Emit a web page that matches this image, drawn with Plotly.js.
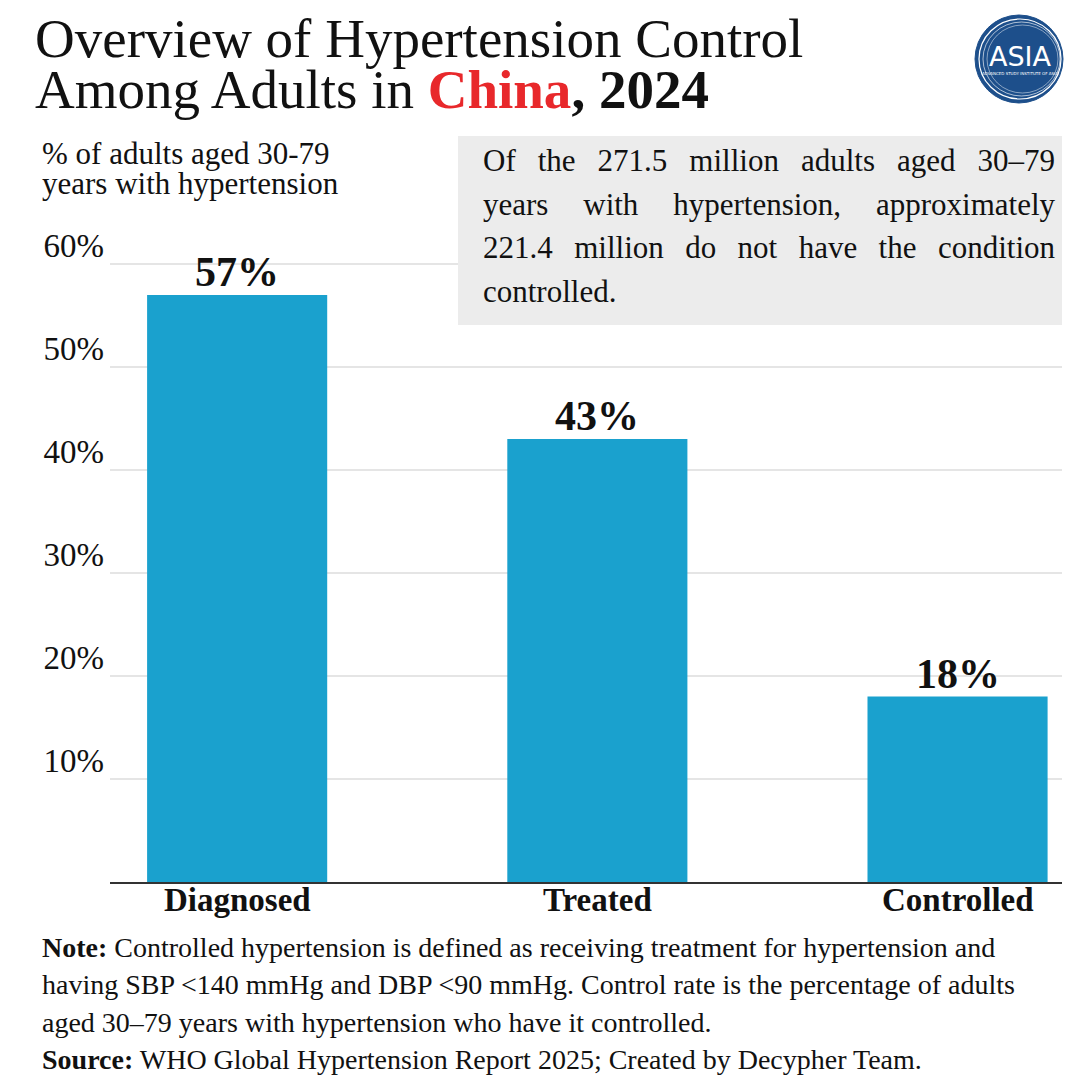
<!DOCTYPE html>
<html>
<head>
<meta charset="utf-8">
<script src="https://cdn.plot.ly/plotly-3.0.1.min.js"></script>
<style>html,body{margin:0;padding:0;background:#fff;}#chart{width:1080px;height:1080px;}</style>
</head>
<body>
<div id="chart"></div>
<script>
// ---- data ----
const categories = ['Diagnosed', 'Treated', 'Controlled'];
const values = [57, 43, 18];
const valueLabels = ['57%', '43%', '18%'];
const yTickVals = [10, 20, 30, 40, 50, 60];
const yTickText = ['10%', '20%', '30%', '40%', '50%', '60%'];

const titleLine1 = 'Overview of Hypertension Control';
const titleLine2 = 'Among Adults in <span style="color:#e8282b"><b>China</b></span><b>, 2024</b>';
const subtitleLines = ['% of adults aged 30-79', 'years with hypertension'];
const boxLines = [
  'Of the 271.5 million adults aged 30\u201379',
  'years with hypertension, approximately',
  '221.4 million do not have the condition',
  'controlled.'
];
const noteLines = [
  '<b>Note:</b> Controlled hypertension is defined as receiving treatment for hypertension and',
  'having SBP &lt;140 mmHg and DBP &lt;90 mmHg. Control rate is the percentage of adults',
  'aged 30\u201379 years with hypertension who have it controlled.',
  '<b>Source:</b> WHO Global Hypertension Report 2025; Created by Decypher Team.'
];

// ---- layout geometry ----
const W = 1080, H = 1080;
const mL = 110, mR = 18, mT = 263, mB = 198;
const pw = W - mL - mR, ph = H - mT - mB;
const px = x => (x - mL) / pw;
const py = y => (H - mB - y) / ph;
const FONT = 'Liberation Serif, Times New Roman, serif';

const annotations = [];
function txt(text, x, y, size, opts) {
  annotations.push(Object.assign({
    text: text, xref: 'paper', yref: 'paper', x: px(x), y: py(y),
    xanchor: 'left', yanchor: 'middle', align: 'left', showarrow: false,
    font: {family: FONT, size: size, color: '#111'}
  }, opts || {}));
}

txt(titleLine1, 33, 39, 55);
txt(titleLine2, 33, 89, 55);
subtitleLines.forEach((t, i) => txt(t, 40, 154 + i * 29, 31));
boxLines.forEach((t, i) => txt(t, 481, 161 + i * 43.5, 31));
noteLines.forEach((t, i) => txt(t, 40, 947 + i * 37.5, 28));

// category labels under the axis
categories.forEach((c) => {
  annotations.push({
    text: '<b>' + c + '</b>', x: c, y: py(900), xref: 'x', yref: 'paper',
    xanchor: 'center', yanchor: 'middle', showarrow: false,
    font: {family: FONT, size: 33, color: '#111'}
  });
});

// bar value labels
categories.forEach((c, i) => {
  annotations.push({
    text: '<b>' + valueLabels[i] + '</b>', x: c, y: values[i], xref: 'x', yref: 'y',
    xanchor: 'center', yanchor: 'bottom', showarrow: false, yshift: -2,
    font: {family: FONT, size: 42, color: '#111'}
  });
});

// logo text
txt('ASIA', 1020, 57, 27, {xanchor: 'center', align: 'center', font: {family: 'DejaVu Sans, sans-serif', size: 27, color: '#ffffff'}});
txt('ADVANCED STUDY INSTITUTE OF ASIA', 1020, 73, 4, {xanchor: 'center', align: 'center', font: {family: 'DejaVu Sans, sans-serif', size: 4, color: '#ffffff'}});

const shapes = [
  // grey text box
  {type: 'rect', xref: 'paper', yref: 'paper', x0: px(458), x1: px(1062), y0: py(325), y1: py(136),
   fillcolor: '#ececec', line: {width: 0}, layer: 'above'},
  // logo
  {type: 'circle', xref: 'paper', yref: 'paper', x0: px(975), x1: px(1063), y0: py(103), y1: py(15),
   fillcolor: '#1d4f8b', line: {color: '#1d4f8b', width: 1}, layer: 'above'},
  {type: 'circle', xref: 'paper', yref: 'paper', x0: px(979), x1: px(1061), y0: py(99), y1: py(19),
   fillcolor: 'rgba(0,0,0,0)', line: {color: '#ffffff', width: 1.2}, layer: 'above'},
  {type: 'circle', xref: 'paper', yref: 'paper', x0: px(983), x1: px(1060), y0: py(96), y1: py(22),
   fillcolor: 'rgba(0,0,0,0)', line: {color: 'rgba(255,255,255,0.8)', width: 0.8}, layer: 'above'},
  {type: 'circle', xref: 'paper', yref: 'paper', x0: px(987), x1: px(1058), y0: py(93), y1: py(25),
   fillcolor: 'rgba(0,0,0,0)', line: {color: 'rgba(255,255,255,0.6)', width: 0.8}, layer: 'above'}
];

const data = [{
  type: 'bar', x: categories, y: values,
  marker: {color: '#1aa1ce', line: {width: 0}},
  width: 0.5, hoverinfo: 'none'
}];

const layout = {
  width: W, height: H,
  margin: {l: mL, r: mR, t: mT, b: mB, pad: 0},
  paper_bgcolor: '#ffffff', plot_bgcolor: '#ffffff',
  showlegend: false,
  xaxis: {
    type: 'category', range: [-0.353, 2.29], fixedrange: true,
    showline: true, linecolor: '#333333', linewidth: 2,
    showgrid: false, zeroline: false, ticks: '', showticklabels: false
  },
  yaxis: {
    range: [0, 60.1], fixedrange: true,
    tickvals: yTickVals, ticktext: yTickText,
    showgrid: true, gridcolor: '#e5e5e5', gridwidth: 1.5,
    zeroline: false, showline: false, ticks: '',
    ticklabelposition: 'outside top', ticklabelshift: 5, ticklabelstandoff: 5,
    tickfont: {family: FONT, size: 33, color: '#111'}
  },
  shapes: shapes,
  annotations: annotations
};

Plotly.newPlot('chart', data, layout, {displayModeBar: false, staticPlot: true}).then(gd => {
  // justify the paragraph inside the grey box (all but the last line)
  const target = 1055 - 483;
  gd.querySelectorAll('.annotation-text').forEach(t => {
    const s = t.textContent;
    const idx = boxLines.indexOf(s);
    if (idx >= 0 && idx < boxLines.length - 1) {
      const len = t.getComputedTextLength();
      const n = (s.match(/ /g) || []).length;
      if (n > 0 && len < target) t.style.wordSpacing = ((target - len) / n) + 'px';
    }
  });
});
</script>
</body>
</html>
